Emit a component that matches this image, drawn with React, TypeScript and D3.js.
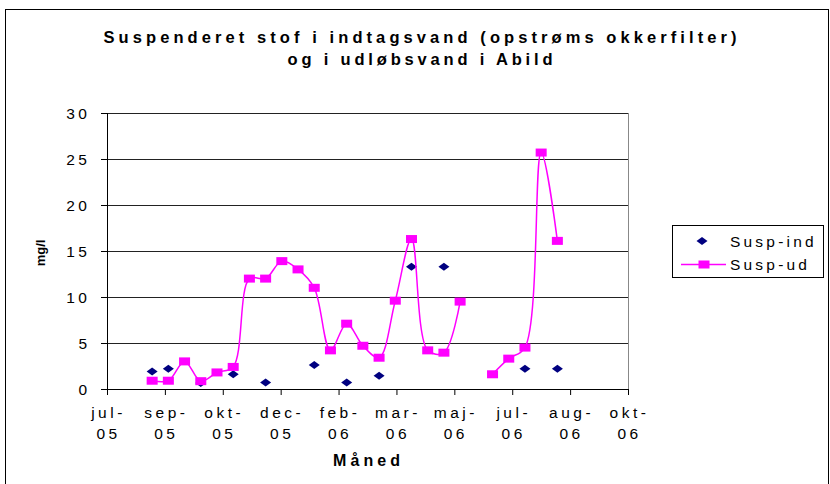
import React from 'react';
import * as d3 from 'd3';

const titleLines = ['Suspenderet stof i indtagsvand (opstrøms okkerfilter)', 'og i udløbsvand i Abild'];
const yLabel = 'mg/l';
const xLabel = 'Måned';

// date axis: Excel major unit of 50 days starting 22 Jul 2005
const axisStart = '2005-07-22';
const axisEnd = '2006-10-15';
const tickStepDays = 50;
const tickLabels = ['jul-05', 'sep-05', 'okt-05', 'dec-05', 'feb-06', 'mar-06', 'maj-06', 'jul-06', 'aug-06', 'okt-06'];
const yTicks = [0, 5, 10, 15, 20, 25, 30];

const sampleDates = [
  '2005-08-30', '2005-09-13', '2005-09-27', '2005-10-11', '2005-10-25', '2005-11-08',
  '2005-11-22', '2005-12-06', '2005-12-20', '2006-01-03', '2006-01-17', '2006-01-31',
  '2006-02-14', '2006-02-28', '2006-03-14', '2006-03-28', '2006-04-11', '2006-04-25',
  '2006-05-09', '2006-05-23', '2006-06-06', '2006-06-20', '2006-07-04', '2006-07-18',
  '2006-08-01', '2006-08-15',
];
const suspInd = [1.9, 2.2, null, 0.65, null, 1.6, null, 0.7, null, null, 2.6, null, 0.7, null, 1.45, null, 13.3, null, 13.3, null, null, null, null, 2.2, null, 2.2];
const suspUd = [0.9, 0.9, 3.0, 0.85, 1.8, 2.4, 12.0, 12.0, 13.9, 13.0, 11.0, 4.2, 7.1, 4.7, 3.4, 9.6, 16.3, 4.2, 3.95, 9.5, null, 1.6, 3.3, 4.5, 25.7, 16.1];

const IND = '#000080';
const UD = '#FF00FF';
const FONT = '"Liberation Sans", Arial, sans-serif';

export default function App() {
  const parse = d3.timeParse('%Y-%m-%d');
  const start = parse(axisStart) as Date;
  const end = parse(axisEnd) as Date;

  const plot = { left: 107, right: 628, top: 113, bottom: 389 };

  const x = d3.scaleTime().domain([start, end]).range([plot.left, plot.right]);
  const y = d3.scaleLinear().domain([0, 30]).range([plot.bottom, plot.top]);

  const tickDates = tickLabels.map((_, i) => d3.timeDay.offset(start, i * tickStepDays));

  const ud = sampleDates.map((d, i) => ({ date: parse(d) as Date, v: suspUd[i] }));
  const ind = sampleDates.map((d, i) => ({ date: parse(d) as Date, v: suspInd[i] }));

  const line = d3.line<{ date: Date; v: number | null }>()
    .defined(d => d.v != null)
    .curve(d3.curveCatmullRom)
    .x(d => x(d.date))
    .y(d => y(d.v as number));

  const diamond = (cx: number, cy: number) =>
    `M${cx - 5.5},${cy}L${cx},${cy - 4}L${cx + 5.5},${cy}L${cx},${cy + 4}Z`;

  const tickStyle = { fontFamily: FONT, fontSize: 15.5, letterSpacing: 3.5 };
  const titleWidths = [633, 265];

  return (
    <svg width={830} height={484} style={{ position: 'absolute', left: 0, top: 0, background: '#fff' }}>
      <rect x={5.5} y={9.5} width={823} height={490} fill="#fff" stroke="#000" />

      <g fontFamily={FONT} fontWeight="bold" fontSize={16.5}>
        {titleLines.map((t, i) => (
          <text key={i} x={420 - titleWidths[i] / 2} y={43 + i * 22}
            textLength={titleWidths[i]} lengthAdjust="spacing">{t}</text>
        ))}
      </g>

      {/* gridlines */}
      {yTicks.filter(t => t > 0).map(t => (
        <line key={t} x1={plot.left} x2={plot.right} y1={y(t) + 0.5} y2={y(t) + 0.5} stroke="#222" />
      ))}
      <line x1={plot.right + 0.5} x2={plot.right + 0.5} y1={plot.top} y2={plot.bottom} stroke="#888" />

      {/* y axis */}
      <line x1={plot.left + 0.5} x2={plot.left + 0.5} y1={plot.top} y2={plot.bottom + 1} stroke="#000" />
      {yTicks.map(t => (
        <g key={t}>
          <line x1={plot.left - 6} x2={plot.left} y1={y(t) + 0.5} y2={y(t) + 0.5} stroke="#000" />
          <text x={90.5} y={y(t) + 5.5} textAnchor="end" {...tickStyle}>{t}</text>
        </g>
      ))}

      {/* x axis */}
      <line x1={plot.left} x2={plot.right + 1} y1={plot.bottom + 0.5} y2={plot.bottom + 0.5} stroke="#000" />
      {tickDates.map((d, i) => {
        const [a, b] = tickLabels[i].split('-');
        return (
          <g key={i}>
            <line x1={x(d) + 0.5} x2={x(d) + 0.5} y1={plot.bottom} y2={plot.bottom + 6} stroke="#000" />
            <text x={x(d) + 1.5} y={417.5} textAnchor="middle" {...tickStyle}>{a + '-'}</text>
            <text x={x(d) + 1.5} y={438.5} textAnchor="middle" {...tickStyle}>{b}</text>
          </g>
        );
      })}

      <text x={333} y={466} fontFamily={FONT} fontWeight="bold" fontSize={16}
        textLength={67} lengthAdjust="spacing">{xLabel}</text>
      <text transform="translate(45,253) rotate(-90)" textAnchor="middle" fontFamily={FONT} fontWeight="bold" fontSize={13}>{yLabel}</text>

      {/* Susp-ind */}
      {ind.filter(d => d.v != null).map((d, i) => (
        <path key={i} d={diamond(x(d.date), y(d.v as number))} fill={IND} />
      ))}

      {/* Susp-ud */}
      <path d={line(ud) || ''} fill="none" stroke={UD} strokeWidth={1.5} />
      {ud.filter(d => d.v != null).map((d, i) => (
        <rect key={i} x={x(d.date) - 5.5} y={y(d.v as number) - 4} width={11} height={8} fill={UD} />
      ))}

      {/* legend */}
      <rect x={672.5} y={225.5} width={151} height={52} fill="#fff" stroke="#000" />
      <path d={diamond(702, 241)} fill={IND} />
      <text x={730} y={246.5} {...tickStyle} letterSpacing={3.2}>Susp-ind</text>
      <line x1={681} x2={726} y1={264.5} y2={264.5} stroke={UD} strokeWidth={1.5} />
      <rect x={698.5} y={260.5} width={11} height={8} fill={UD} />
      <text x={730} y={269.5} {...tickStyle} letterSpacing={3.2}>Susp-ud</text>
    </svg>
  );
}
